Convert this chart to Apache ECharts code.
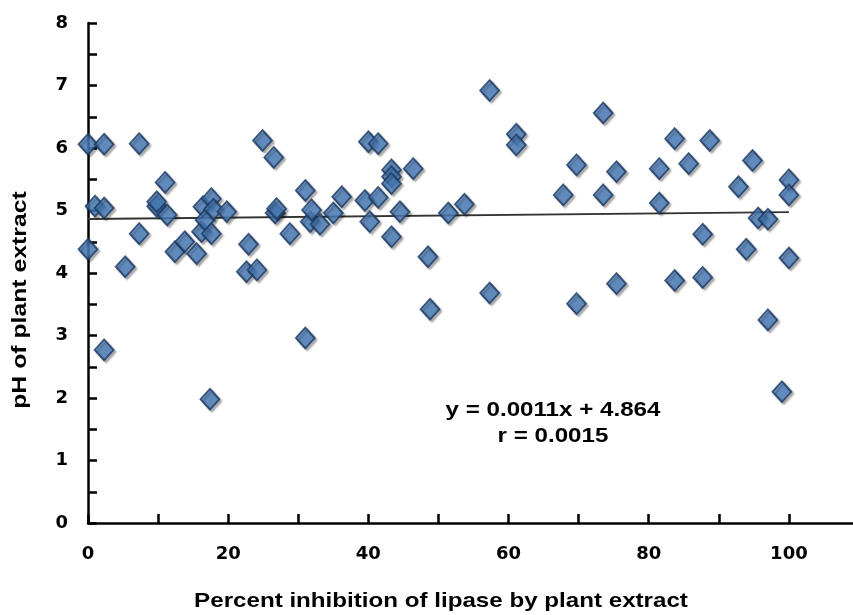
<!DOCTYPE html>
<html>
<head>
<meta charset="utf-8">
<script src="https://cdn.jsdelivr.net/npm/echarts@6/dist/echarts.min.js"></script>
<style>
html,body{margin:0;padding:0;background:#fff;}
#main{width:853px;height:615px;}
</style>
</head>
<body>
<div id="main"></div>
<script>
// percent inhibition (x) and pH (y)
var inhibition = [0, 0, 1.0, 2.3, 2.3, 2.3, 5.3, 7.3, 7.3, 9.8, 9.8, 11.0, 11.3, 12.4, 13.8, 15.5, 16.2, 16.4, 16.7, 17.4,
    17.6, 17.6, 17.9, 19.8, 22.6, 22.9, 24.1, 24.9, 26.5, 26.7, 26.9, 28.8, 31.0, 31.0, 31.7, 31.9, 33.1, 35.0, 36.2, 39.5,
    40.0, 40.2, 41.4, 41.4, 43.3, 43.3, 43.3, 43.3, 44.5, 46.4, 48.5, 48.8, 51.4, 53.7, 57.3, 57.3, 61.1, 61.1, 67.8, 69.7,
    69.7, 73.5, 73.5, 75.4, 75.4, 81.5, 81.5, 83.7, 83.7, 85.7, 87.7, 87.7, 88.7, 92.8, 93.9, 94.8, 95.6, 97.0, 97.0, 99.0,
    100, 100, 100];
var phValues = [6.06, 4.38, 5.07, 6.06, 5.04, 2.77, 4.10, 6.07, 4.63, 5.07, 5.14, 5.45, 4.93, 4.34, 4.50, 4.31, 4.66, 5.06, 4.85, 1.98,
    5.19, 4.63, 5.02, 4.98, 4.02, 4.46, 4.05, 6.12, 5.85, 4.96, 5.03, 4.63, 5.32, 2.96, 4.82, 5.01, 4.78, 4.96, 5.22, 5.16,
    6.10, 4.82, 6.07, 5.21, 5.65, 5.54, 5.43, 4.58, 4.98, 5.67, 4.26, 3.42, 4.96, 5.10, 6.92, 3.68, 6.22, 6.05, 5.25, 5.73,
    3.51, 6.56, 5.25, 5.62, 3.83, 5.67, 5.12, 6.15, 3.88, 5.75, 4.62, 3.93, 6.12, 5.38, 4.38, 5.80, 4.88, 4.86, 3.25, 2.10,
    5.49, 5.25, 4.24];
// trendline end points (y = 0.0011x + 4.864)
var trendX = [0, 100];
var trendY = [4.864, 4.974];
var eqText = ['y = 0.0011x + 4.864', 'r = 0.0015'];
var xTitle = 'Percent inhibition of lipase by plant extract';
var yTitle = 'pH of plant extract';

var font = "'Liberation Sans', Arial, sans-serif";
var numFont = "'DejaVu Sans', sans-serif";
var myChart = echarts.init(document.getElementById('main'));

var points = [];
for (var i = 0; i < inhibition.length; i++) {
    points.push([inhibition[i], phValues[i]]);
}
var trend = [];
for (var j = 0; j < trendX.length; j++) {
    trend.push([trendX[j], trendY[j]]);
}

var option = {
    animation: false,
    grid: {
        left: 88,
        top: 23,
        right: -6,
        bottom: 92,
        outerBoundsMode: 'none'
    },
    xAxis: {
        type: 'value',
        min: 0,
        max: 110,
        interval: 10,
        axisLine: {
            lineStyle: { color: '#000', width: 2.5 }
        },
        axisTick: {
            inside: true,
            length: 9,
            lineStyle: { color: '#000', width: 2.5 }
        },
        axisLabel: {
            margin: 22,
            color: '#000',
            fontSize: 18,
            fontWeight: 'bold',
            fontFamily: numFont,
            formatter: function (v) {
                return (v % 20 === 0 && v <= 100) ? String(v) : '';
            }
        },
        splitLine: { show: false }
    },
    yAxis: {
        type: 'value',
        min: 0,
        max: 8,
        interval: 0.5,
        axisLine: {
            show: true,
            lineStyle: { color: '#000', width: 2.5 }
        },
        axisTick: {
            show: true,
            inside: true,
            length: 9,
            lineStyle: { color: '#000', width: 2.5 }
        },
        axisLabel: {
            margin: 20,
            color: '#000',
            fontSize: 18,
            fontWeight: 'bold',
            fontFamily: numFont,
            formatter: function (v) {
                return (v % 1 === 0) ? String(v) : '';
            }
        },
        splitLine: { show: false }
    },
    graphic: [
        {
            type: 'text',
            x: 441,
            y: 601,
            scaleX: 1.15,
            style: {
                text: xTitle,
                fill: '#000',
                font: 'bold 21px ' + font,
                align: 'center',
                verticalAlign: 'middle'
            }
        },
        {
            type: 'text',
            rotation: Math.PI / 2,
            x: 20,
            y: 300,
            scaleX: 1.18,
            style: {
                text: yTitle,
                fill: '#000',
                font: 'bold 21px ' + font,
                align: 'center',
                verticalAlign: 'middle'
            }
        },
        {
            type: 'text',
            x: 553,
            y: 410,
            scaleX: 1.15,
            style: {
                text: eqText[0],
                fill: '#000',
                font: 'bold 21px ' + font,
                align: 'center',
                verticalAlign: 'middle'
            }
        },
        {
            type: 'text',
            x: 553,
            y: 436,
            scaleX: 1.15,
            style: {
                text: eqText[1],
                fill: '#000',
                font: 'bold 21px ' + font,
                align: 'center',
                verticalAlign: 'middle'
            }
        }
    ],
    series: [
        {
            name: 'trend',
            type: 'line',
            data: trend,
            symbol: 'none',
            z: 1,
            lineStyle: { color: '#333', width: 2 }
        },
        {
            name: 'pH',
            type: 'scatter',
            data: points,
            symbol: 'diamond',
            symbolSize: [19, 21],
            z: 2,
            itemStyle: {
                color: '#4A7EBB',
                borderColor: '#1B3A63',
                borderWidth: 1.8,
                shadowColor: 'rgba(0,0,0,0.35)',
                shadowBlur: 2,
                shadowOffsetX: 2,
                shadowOffsetY: 2
            }
        }
    ]
};
myChart.setOption(option);
</script>
</body>
</html>
